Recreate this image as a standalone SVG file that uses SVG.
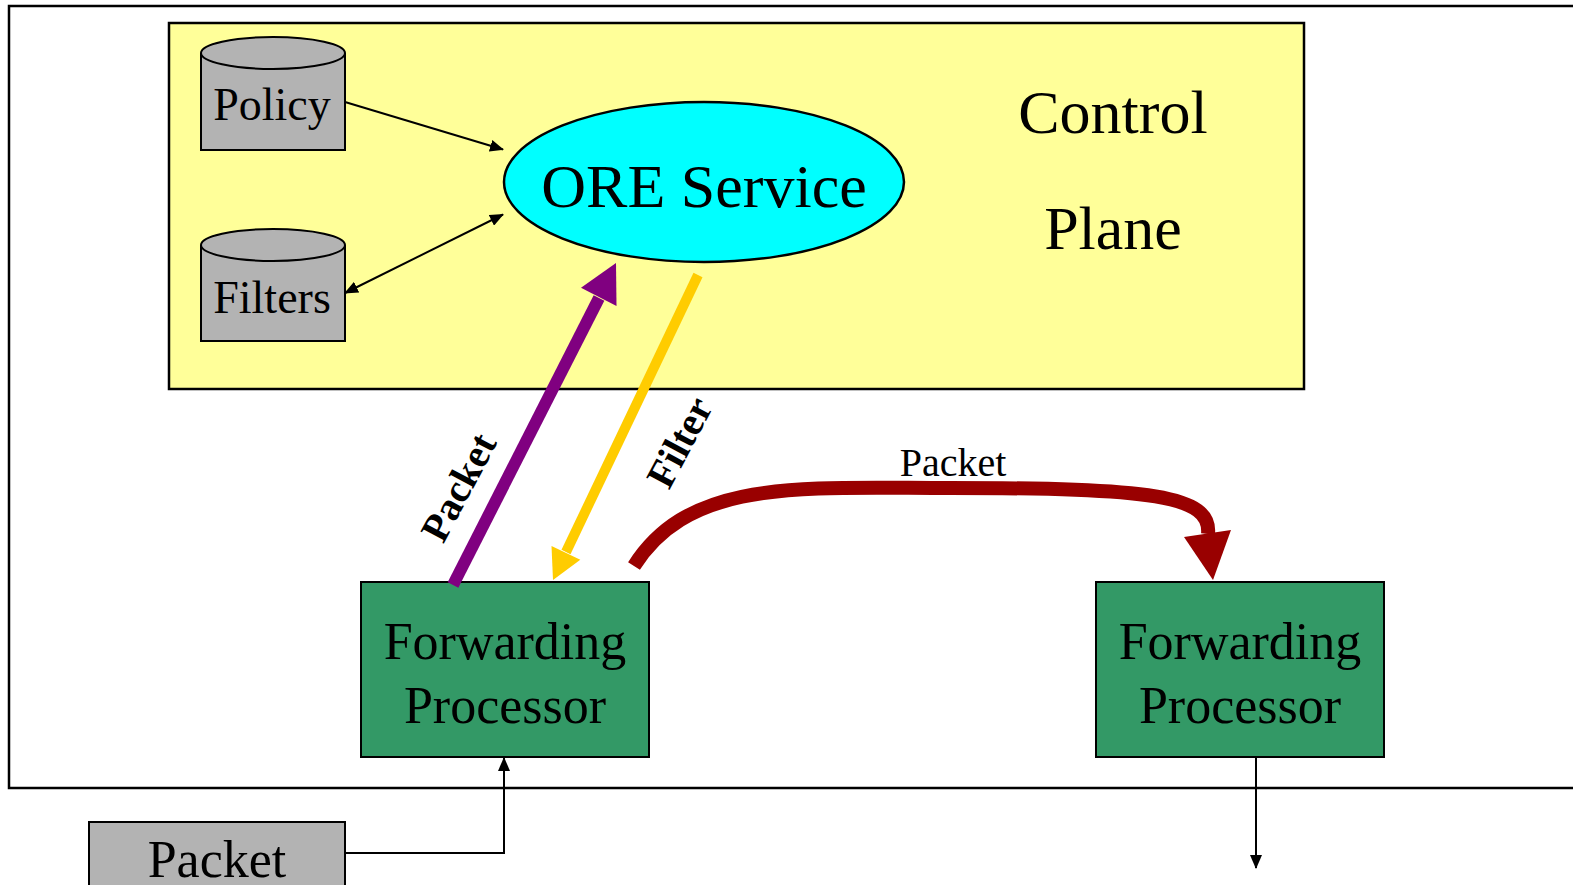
<svg xmlns="http://www.w3.org/2000/svg" width="1573" height="885" viewBox="0 0 1573 885">
<defs>
<style>
.t{font-family:"Liberation Serif","Times New Roman",serif;fill:#000;text-anchor:middle}
.cyl{fill:#B3B3B3;stroke:#000;stroke-width:2}
.fp{fill:#339966;stroke:#000;stroke-width:2}
.thin{fill:none;stroke:#000;stroke-width:2}
</style>
<marker id="ah" markerUnits="userSpaceOnUse" markerWidth="14" markerHeight="12" refX="13" refY="6" orient="auto-start-reverse" viewBox="0 0 14 12">
<path d="M0,0 L14,6 L0,12 z" fill="#000"/>
</marker>
</defs>
<rect width="1573" height="885" fill="#fff"/>
<g id="outer-frame">
<rect x="9" y="6" width="1600" height="782" fill="none" stroke="#000" stroke-width="2.5"/>
</g>
<g id="control-plane">
<rect x="169" y="23" width="1135" height="366" fill="#FFFF99" stroke="#000" stroke-width="2.5"/>
<text class="t" x="1113" y="133" font-size="62">Control</text>
<text class="t" x="1113" y="249" font-size="62">Plane</text>
</g>
<g id="policy">
<path class="cyl" d="M201,53 L201,150 L345,150 L345,53"/>
<ellipse class="cyl" cx="273" cy="53" rx="72" ry="16"/>
<text class="t" x="272" y="120" font-size="46">Policy</text>
</g>
<g id="filters">
<path class="cyl" d="M201,245 L201,341 L345,341 L345,245"/>
<ellipse class="cyl" cx="273" cy="245" rx="72" ry="16"/>
<text class="t" x="272" y="313" font-size="46">Filters</text>
</g>
<g id="ore-service">
<ellipse cx="704" cy="182" rx="200" ry="80" fill="#00FFFF" stroke="#000" stroke-width="2.5"/>
<text class="t" x="704" y="207" font-size="62">ORE Service</text>
</g>
<g id="fp1">
<rect class="fp" x="361" y="582" width="288" height="175"/>
<text class="t" x="505" y="659" font-size="52">Forwarding</text>
<text class="t" x="505" y="723" font-size="52">Processor</text>
</g>
<g id="fp2">
<rect class="fp" x="1096" y="582" width="288" height="175"/>
<text class="t" x="1240" y="659" font-size="52">Forwarding</text>
<text class="t" x="1240" y="723" font-size="52">Processor</text>
</g>
<g id="packet-in">
<rect x="89" y="822" width="256" height="80" fill="#B3B3B3" stroke="#000" stroke-width="2"/>
<text class="t" x="217" y="877" font-size="52">Packet</text>
</g>
<g id="connectors">
<line class="thin" x1="345" y1="102" x2="503" y2="149.5" marker-end="url(#ah)"/>
<line class="thin" x1="345" y1="293" x2="503" y2="214.5" marker-start="url(#ah)" marker-end="url(#ah)"/>
<polyline class="thin" points="345,853 504,853 504,758" marker-end="url(#ah)"/>
<line class="thin" x1="1256" y1="757" x2="1256" y2="868" marker-end="url(#ah)"/>
<line x1="453" y1="585" x2="599" y2="298" stroke="#800080" stroke-width="12"/>
<polygon points="616,263 616.5,306 581,287.8" fill="#800080"/>
<line x1="698" y1="275" x2="566" y2="552" stroke="#FFCC00" stroke-width="10"/>
<polygon points="553,580 580.3,559.8 551.5,546" fill="#FFCC00"/>
<path d="M634,566 C690,478 800,488 950,488 C1150,488 1212,495 1208,534" fill="none" stroke="#990000" stroke-width="14"/>
<polygon points="1213,580 1184,537 1231,530" fill="#990000"/>
<text class="t" x="953" y="476" font-size="40">Packet</text>
<text class="t" x="458" y="487" font-size="40" font-weight="bold" transform="rotate(-62 458 487)" dy="14">Packet</text>
<text class="t" x="679" y="442" font-size="40" font-weight="bold" transform="rotate(-62 679 442)" dy="14">Filter</text>
</g>
</svg>
